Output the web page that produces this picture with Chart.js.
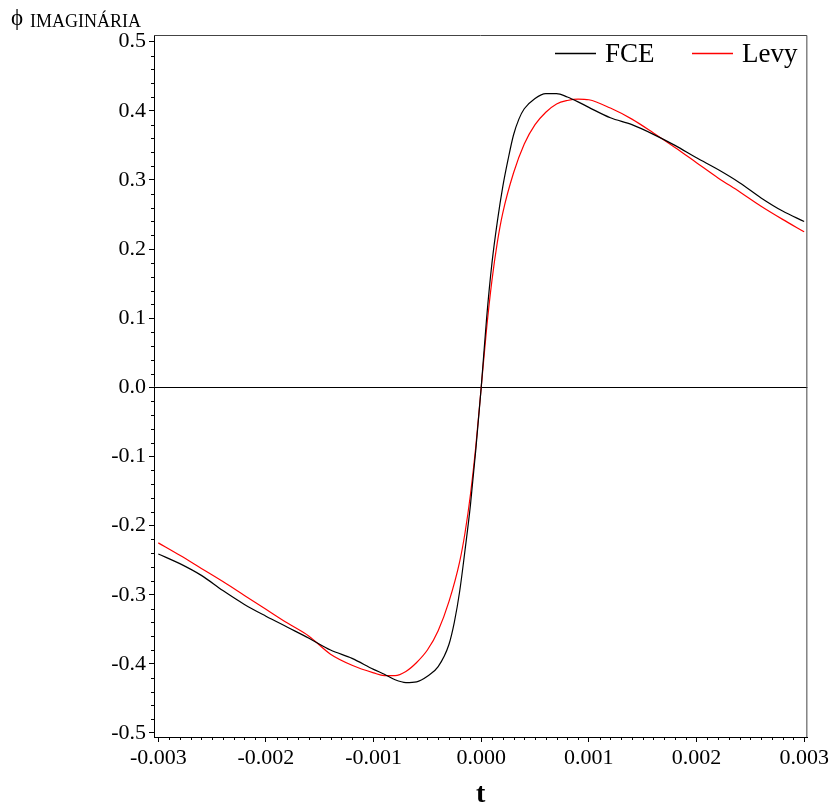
<!DOCTYPE html>
<html>
<head>
<meta charset="utf-8">
<script src="https://cdn.jsdelivr.net/npm/chart.js@4"></script>
<style>
  html, body { margin: 0; padding: 0; background: #fff; }
  #wrap { width: 832px; height: 808px; }
</style>
</head>
<body>
<div id="wrap"><canvas id="chart" width="832" height="808"></canvas></div>
<script>
// data (t in seconds)
const tFce = [-0.003,-0.0028,-0.0026,-0.0024,-0.0022,-0.002,-0.0018,-0.0016,-0.0014,-0.0012,-0.001,-0.0009,-0.0008,-0.0007,-0.0006,-0.0005,-0.0004,-0.0003,-0.00025,-0.0002,-0.00015,-0.0001,-0.00005,0,0.00005,0.0001,0.00015,0.0002,0.00025,0.0003,0.00035,0.0004,0.0005,0.0006,0.0007,0.0008,0.0009,0.001,0.0012,0.0014,0.0016,0.0018,0.002,0.0022,0.0024,0.0026,0.0028,0.003];
const fce = [-0.241,-0.255,-0.272,-0.294,-0.314,-0.331,-0.347,-0.363,-0.38,-0.392,-0.408,-0.415,-0.423,-0.427,-0.426,-0.418,-0.404,-0.372,-0.34,-0.295,-0.235,-0.17,-0.09,0.0,0.10,0.18,0.24,0.29,0.33,0.365,0.388,0.403,0.418,0.425,0.425,0.42,0.413,0.405,0.39,0.38,0.366,0.35,0.332,0.315,0.296,0.274,0.255,0.240];

const tLevy = [-0.003,-0.0028,-0.0026,-0.0024,-0.0022,-0.002,-0.0018,-0.0016,-0.0014,-0.0012,-0.001,-0.0009,-0.0008,-0.0007,-0.0006,-0.0005,-0.0004,-0.0003,-0.0002,-0.00015,-0.0001,-0.00005,0,0.00005,0.0001,0.00015,0.0002,0.0003,0.0004,0.0005,0.0006,0.0007,0.0008,0.0009,0.001,0.0012,0.0014,0.0016,0.0018,0.002,0.0022,0.0024,0.0026,0.0028,0.003];
const levy = [-0.225,-0.243,-0.262,-0.281,-0.301,-0.321,-0.341,-0.36,-0.386,-0.402,-0.413,-0.417,-0.417,-0.411,-0.398,-0.38,-0.352,-0.31,-0.252,-0.21,-0.155,-0.085,0,0.085,0.155,0.21,0.252,0.31,0.352,0.38,0.398,0.41,0.415,0.417,0.416,0.404,0.388,0.368,0.347,0.325,0.303,0.283,0.262,0.243,0.225];

const seriesNames = ['FCE', 'Levy'];
const seriesColors = ['#000000', '#ff0000'];
const xTicks = [-0.003,-0.002,-0.001,0,0.001,0.002,0.003];
const yTicks = [-0.5,-0.4,-0.3,-0.2,-0.1,0,0.1,0.2,0.3,0.4,0.5];

const SERIF = '"Liberation Serif", "DejaVu Serif", serif';

function pts(ts, vs){ return ts.map((t,i)=>({x:t, y:vs[i]})); }

// minor ticks, frame, legend and the y-axis caption
const decor = {
  id: 'decor',
  afterDraw(chart){
    const {ctx, chartArea:a, scales:{x, y}} = chart;
    ctx.save();
    ctx.strokeStyle = '#000';
    ctx.lineWidth = 1;
    ctx.beginPath();
    for(let i=-30;i<=30;i++){
      if(i%10===0) continue;
      const px = Math.round(x.getPixelForValue(i*0.0001))+0.5;
      ctx.moveTo(px, a.bottom); ctx.lineTo(px, a.bottom+3);
    }
    for(let i=-25;i<=25;i++){
      if(i%5===0) continue;
      const py = Math.round(y.getPixelForValue(i*0.02))+0.5;
      ctx.moveTo(a.left, py); ctx.lineTo(a.left-3, py);
    }
    ctx.stroke();
    // frame top/right
    ctx.strokeStyle = '#444';
    ctx.beginPath();
    ctx.moveTo(a.left, a.top+0.5); ctx.lineTo(a.right-0.5, a.top+0.5); ctx.lineTo(a.right-0.5, a.bottom);
    ctx.stroke();
    // legend, top right inside the plot
    const legendX = [555, 692];
    ctx.font = '27px ' + SERIF;
    ctx.textBaseline = 'middle';
    seriesNames.forEach((name, i)=>{
      const lx = legendX[i], ly = a.top + 18.5;
      ctx.strokeStyle = seriesColors[i];
      ctx.lineWidth = 1.3;
      ctx.beginPath(); ctx.moveTo(lx, ly); ctx.lineTo(lx+41, ly); ctx.stroke();
      ctx.fillStyle = '#000';
      ctx.fillText(name, lx+50, ly+1);
    });
    // caption
    ctx.fillStyle = '#000';
    ctx.textBaseline = 'alphabetic';
    ctx.font = '23px ' + SERIF;
    ctx.fillText('ϕ', 11, 25);
    ctx.font = '18px ' + SERIF;
    ctx.fillText('IMAGINÁRIA', 30, 27);
    ctx.restore();
  }
};

new Chart(document.getElementById('chart'), {
  type: 'line',
  data: {
    datasets: seriesNames.map((name, i) => ({
      label: name,
      data: i === 0 ? pts(tFce, fce) : pts(tLevy, levy),
      borderColor: seriesColors[i],
      backgroundColor: seriesColors[i],
      borderWidth: 1.2,
      pointRadius: 0,
      cubicInterpolationMode: 'monotone',
      fill: false
    }))
  },
  options: {
    responsive: false,
    animation: false,
    layout: { padding: { left: 0, right: 24, top: 35, bottom: 0 } },
    plugins: {
      tooltip: { enabled: false },
      legend: { display: false }
    },
    scales: {
      x: {
        type: 'linear',
        min: -0.00304,
        max: 0.00303,
        afterBuildTicks: s => { s.ticks = xTicks.map(v=>({value:v})); },
        afterFit: s => { s.height = 71; },
        border: { display: true, color: '#000', width: 1 },
        grid: { drawOnChartArea: false, drawTicks: true, tickLength: 5, tickColor: '#000' },
        ticks: {
          color: '#000', padding: 3, maxRotation: 0,
          font: { family: SERIF, size: 22 },
          callback: v => v.toFixed(3)
        },
        title: { display: true, text: 't', color: '#000', padding: { top: 0, bottom: -4 }, font: { family: SERIF, size: 28, weight: 'bold' } }
      },
      y: {
        type: 'linear',
        min: -0.5058,
        max: 0.5097,
        afterBuildTicks: s => { s.ticks = yTicks.map(v=>({value:v})); },
        afterFit: s => { s.width = 154; },
        border: { display: true, color: '#000', width: 1 },
        grid: {
          drawOnChartArea: true, drawTicks: true, tickLength: 5, tickColor: '#000',
          color: c => (c.tick && Math.abs(c.tick.value) < 1e-9) ? '#000' : 'rgba(0,0,0,0)'
        },
        ticks: {
          color: '#000', padding: 3,
          font: { family: SERIF, size: 22 },
          callback: v => v.toFixed(1)
        }
      }
    }
  },
  plugins: [decor]
});
</script>
</body>
</html>
